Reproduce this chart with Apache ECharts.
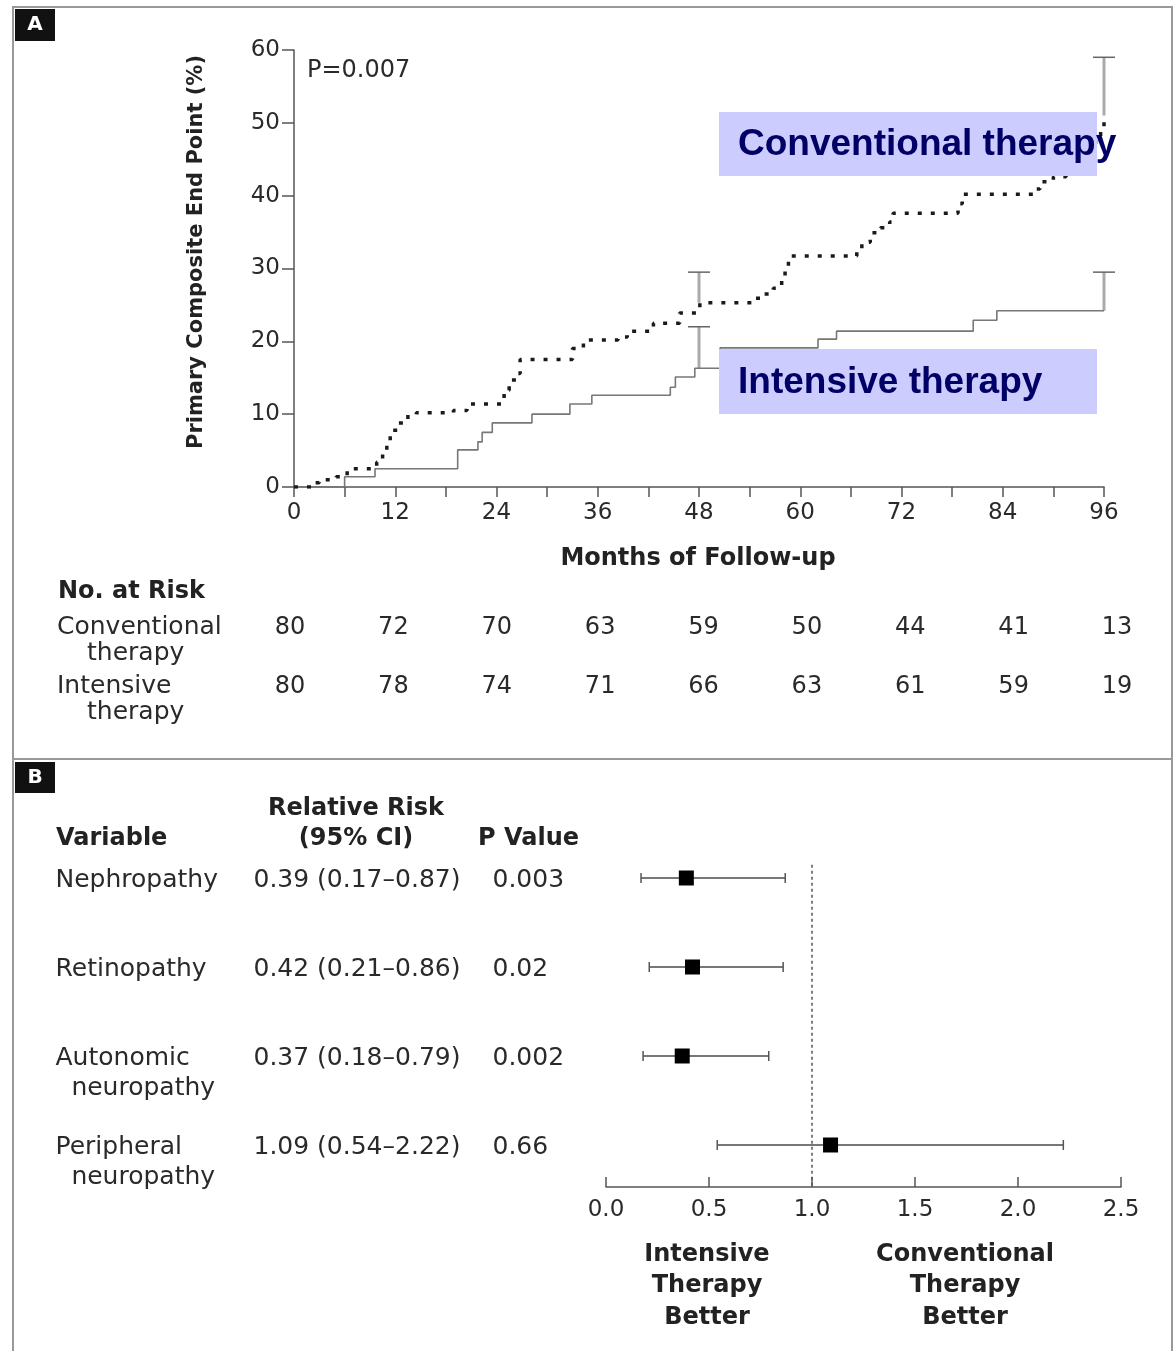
<!DOCTYPE html>
<html><head><meta charset="utf-8">
<script src="https://cdn.jsdelivr.net/npm/echarts@6/dist/echarts.min.js"></script>
<style>html,body{margin:0;padding:0;background:#fff}#c{width:1175px;height:1351px}</style>
</head><body><div id="c"></div>
<script>
// ---------- data ----------
const monthTicks = [0, 12, 24, 36, 48, 60, 72, 84, 96];
const conventionalCurve = [[0,0],[2.2,0.6],[3,1.0],[5,1.4],[6.3,2.5],[9.8,3.4],[10.5,4.8],[11,6.2],[11.4,7.8],[12.3,8.8],[13.5,9.9],[14.5,10.2],[18.9,10.5],[20.5,11.4],[24.9,13.3],[25.5,14.7],[26.5,15.6],[26.8,17.5],[33,19.0],[34.3,20.2],[38.4,20.6],[39.5,21.4],[42.6,22.5],[45.7,23.9],[47.8,24.0],[48.1,25.3],[54.3,25.9],[55.6,26.5],[56.8,27.3],[57.8,28.4],[58.2,29.9],[58.6,31.7],[66.7,32.5],[67.3,33.6],[68.3,34.9],[69.5,35.6],[70.6,36.4],[71,37.6],[78.7,38.9],[79.2,40.2],[87.6,40.9],[88.4,41.9],[90,42.6],[91.5,44.0],[93.5,46.0],[95,48.0],[95.6,49.4],[96,51.0]];
const intensiveCurve = [[0,0],[6,1.4],[9.6,2.5],[19.4,5.1],[21.8,6.2],[22.3,7.5],[23.5,8.8],[28.2,10.0],[32.7,11.4],[35.3,12.6],[44.6,13.7],[45.2,15.1],[47.5,16.3],[50.5,19.1],[62.1,20.3],[64.3,21.4],[80.5,22.9],[83.3,24.2],[96,24.2]];
const conventionalCI = [[48, 25.3, 29.5], [96, 51.0, 59.0]];
const intensiveCI = [[48, 16.3, 22.0], [96, 24.2, 29.5]];
const atRiskConventional = [80, 72, 70, 63, 59, 50, 44, 41, 13];
const atRiskIntensive = [80, 78, 74, 71, 66, 63, 61, 59, 19];
const pValueText = 'P=0.007';

const variables = ['Nephropathy', 'Retinopathy', 'Autonomic neuropathy', 'Peripheral neuropathy'];
const relativeRisk = [0.39, 0.42, 0.37, 1.09];
const ciLow = [0.17, 0.21, 0.18, 0.54];
const ciHigh = [0.87, 0.86, 0.79, 2.22];
const pValues = ['0.003', '0.02', '0.002', '0.66'];

// ---------- chart ----------
const FONT = 'DejaVu Sans';
const TXT = '#2a2a2a';
const chart = echarts.init(document.getElementById('c'), null, {renderer: 'canvas'});

const axisGray = {color: '#555', width: 1.5};

function kmCI(params, api) {
  const b = api.coord([api.value(0), api.value(1)]);
  const t = api.coord([api.value(0), api.value(2)]);
  return {type: 'group', children: [
    {type: 'line', shape: {x1: b[0], y1: b[1], x2: t[0], y2: t[1]}, style: {stroke: '#aaa', lineWidth: 3}},
    {type: 'line', shape: {x1: t[0] - 11, y1: t[1], x2: t[0] + 11, y2: t[1]}, style: {stroke: '#666', lineWidth: 1.5}}
  ]};
}

function forestItem(params, api) {
  const r = api.value(3);
  const c = api.coord([api.value(0), r]);
  const l = api.coord([api.value(1), r]);
  const h = api.coord([api.value(2), r]);
  return {type: 'group', children: [
    {type: 'line', shape: {x1: l[0], y1: l[1], x2: h[0], y2: h[1]}, style: {stroke: '#777', lineWidth: 2}},
    {type: 'line', shape: {x1: l[0], y1: l[1] - 5, x2: l[0], y2: l[1] + 5}, style: {stroke: '#555', lineWidth: 1.5}},
    {type: 'line', shape: {x1: h[0], y1: h[1] - 5, x2: h[0], y2: h[1] + 5}, style: {stroke: '#555', lineWidth: 1.5}},
    {type: 'rect', shape: {x: c[0] - 7.5, y: c[1] - 7.5, width: 15, height: 15}, style: {fill: '#000'}}
  ]};
}

const fmt2 = v => v.toFixed(2);
const rrStrings = relativeRisk.map((v, i) => `${fmt2(v)} (${fmt2(ciLow[i])}–${fmt2(ciHigh[i])})`);
const varStrings = variables.map(v => v.includes(' ') ? v.replace(' ', '\n  ') : v);

const tableLabel = {
  show: true, position: [0, -12], align: 'left', verticalAlign: 'top',
  fontFamily: FONT, fontSize: 25, color: TXT, lineHeight: 30,
  formatter: p => p.value[2]
};
const tableSeries = (colX, texts) => ({
  type: 'scatter', xAxisIndex: 3, yAxisIndex: 3, symbolSize: 1,
  itemStyle: {color: 'rgba(0,0,0,0)', opacity: 1}, silent: true,
  data: texts.map((t, i) => [colX, i, t]),
  label: tableLabel
});
const riskSeries = (row, vals) => ({
  type: 'scatter', xAxisIndex: 1, yAxisIndex: 1, symbolSize: 1,
  itemStyle: {color: 'rgba(0,0,0,0)', opacity: 1}, silent: true,
  data: monthTicks.map((m, i) => [m, row, vals[i]]),
  label: {show: true, position: 'inside', fontFamily: FONT, fontSize: 24, color: TXT, formatter: p => p.value[2]}
});

const txt = (x, y, text, o = {}) => ({
  type: 'text', x, y, z: 50,
  style: Object.assign({text, fontFamily: FONT, fontSize: 25, fill: TXT, align: 'left', verticalAlign: 'middle'}, o)
});

const option = {
  backgroundColor: '#fff',
  animation: false,
  grid: [
    {left: 294, top: 50, width: 810, height: 437},
    {left: 290, top: 628, width: 827, height: 59},
    {left: 606, top: 833.5, width: 515, height: 353.5},
    {left: 0, top: 833.5, width: 1175, height: 353.5}
  ],
  xAxis: [
    {type: 'value', gridIndex: 0, min: 0, max: 96, interval: 12,
      axisLine: {show: true, onZero: false, lineStyle: axisGray},
      axisTick: {show: true, length: 10, lineStyle: axisGray},
      minorTick: {show: true, splitNumber: 2, length: 10, lineStyle: axisGray},
      minorSplitLine: {show: false}, splitLine: {show: false},
      axisLabel: {fontFamily: FONT, fontSize: 23, color: TXT, margin: 15}},
    {type: 'value', gridIndex: 1, min: 0, max: 96, show: false},
    {type: 'value', gridIndex: 2, min: 0, max: 2.5, interval: 0.5, position: 'bottom',
      axisLine: {show: true, onZero: false, lineStyle: axisGray},
      axisTick: {show: true, inside: true, length: 10, lineStyle: axisGray},
      splitLine: {show: false},
      axisLabel: {fontFamily: FONT, fontSize: 23, color: TXT, margin: 12, formatter: v => v.toFixed(1)}},
    {type: 'value', gridIndex: 3, min: 0, max: 1175, show: false}
  ],
  yAxis: [
    {type: 'value', gridIndex: 0, min: 0, max: 60, interval: 10,
      axisLine: {show: true, onZero: false, lineStyle: axisGray},
      axisTick: {show: true, length: 12, lineStyle: axisGray},
      splitLine: {show: false},
      axisLabel: {fontFamily: FONT, fontSize: 23, color: TXT, margin: 14}},
    {type: 'value', gridIndex: 1, min: 0, max: 1, inverse: true, show: false},
    {type: 'value', gridIndex: 2, min: -0.5, max: 3.472, inverse: true, show: false},
    {type: 'value', gridIndex: 3, min: -0.5, max: 3.472, inverse: true, show: false}
  ],
  series: [
    {name: 'Intensive therapy', type: 'line', step: 'end', xAxisIndex: 0, yAxisIndex: 0,
      showSymbol: false, symbol: 'none', data: intensiveCurve,
      lineStyle: {color: '#777', width: 1.6}, z: 3},
    {name: 'Conventional therapy', type: 'line', step: 'end', xAxisIndex: 0, yAxisIndex: 0,
      showSymbol: false, symbol: 'none', data: conventionalCurve,
      lineStyle: {color: '#1a1a1a', width: 3.5, type: [4, 9]}, z: 4},
    {type: 'custom', xAxisIndex: 0, yAxisIndex: 0, renderItem: kmCI,
      encode: {x: 0, y: [1, 2]}, data: conventionalCI.concat(intensiveCI), z: 2},
    {type: 'line', xAxisIndex: 2, yAxisIndex: 2, symbol: 'none', silent: true,
      data: [[1, -0.15], [1, 3.472]], lineStyle: {color: '#555', width: 1.5, type: [3, 3]}},
    {type: 'custom', xAxisIndex: 2, yAxisIndex: 2, renderItem: forestItem,
      encode: {x: [0, 1, 2], y: 3}, data: relativeRisk.map((v, i) => [v, ciLow[i], ciHigh[i], i]), z: 5},
    riskSeries(0, atRiskConventional),
    riskSeries(1, atRiskIntensive),
    tableSeries(56, varStrings),
    tableSeries(254, rrStrings),
    tableSeries(493, pValues)
  ],
  graphic: [
    {type: 'rect', shape: {x: 13, y: 7, width: 1159, height: 1370}, style: {fill: 'none', stroke: '#999', lineWidth: 2}, z: 40},
    {type: 'line', shape: {x1: 13, y1: 759, x2: 1172, y2: 759}, style: {stroke: '#999', lineWidth: 2}, z: 40},
    {type: 'rect', shape: {x: 15, y: 9, width: 40, height: 32}, style: {fill: '#111'}, z: 41},
    txt(35, 25, 'A', {fill: '#fff', fontWeight: 'bold', fontSize: 20, align: 'center'}),
    {type: 'rect', shape: {x: 15, y: 762, width: 40, height: 31}, style: {fill: '#111'}, z: 41},
    txt(35, 778, 'B', {fill: '#fff', fontWeight: 'bold', fontSize: 20, align: 'center'}),
    {type: 'text', x: 197, y: 252, rotation: Math.PI / 2, z: 50,
      style: {text: 'Primary Composite End Point (%)', fontFamily: FONT, fontWeight: 'bold', fontSize: 21, fill: '#222', align: 'center', verticalAlign: 'middle'}},
    txt(698, 559, 'Months of Follow-up', {fontWeight: 'bold', fontSize: 24, fill: '#222', align: 'center'}),
    txt(307, 71, pValueText, {fontSize: 24}),
    {type: 'rect', shape: {x: 719, y: 112, width: 378, height: 64}, style: {fill: '#ccccff'}, z: 60},
    {type: 'text', x: 738, y: 145, z: 61, style: {text: 'Conventional therapy', fontFamily: 'Liberation Sans', fontWeight: 'bold', fontSize: 37, fill: '#000066', align: 'left', verticalAlign: 'middle'}},
    {type: 'rect', shape: {x: 719, y: 349, width: 378, height: 65}, style: {fill: '#ccccff'}, z: 60},
    {type: 'text', x: 738, y: 383, z: 61, style: {text: 'Intensive therapy', fontFamily: 'Liberation Sans', fontWeight: 'bold', fontSize: 37, fill: '#000066', align: 'left', verticalAlign: 'middle'}},
    txt(58, 592, 'No. at Risk', {fontWeight: 'bold', fill: '#222', fontSize: 24}),
    txt(57, 627, 'Conventional'),
    txt(87, 653, 'therapy'),
    txt(57, 686, 'Intensive'),
    txt(87, 712, 'therapy'),
    txt(56, 839, 'Variable', {fontWeight: 'bold', fill: '#222', fontSize: 24}),
    txt(356, 809, 'Relative Risk', {fontWeight: 'bold', fill: '#222', align: 'center', fontSize: 24}),
    txt(356, 839, '(95% CI)', {fontWeight: 'bold', fill: '#222', align: 'center', fontSize: 24}),
    txt(478, 839, 'P Value', {fontWeight: 'bold', fill: '#222', fontSize: 24}),
    txt(707, 1286, 'Intensive\nTherapy\nBetter', {fontWeight: 'bold', fill: '#222', align: 'center', lineHeight: 31.5, fontSize: 24}),
    txt(965, 1286, 'Conventional\nTherapy\nBetter', {fontWeight: 'bold', fill: '#222', align: 'center', lineHeight: 31.5, fontSize: 24})
  ]
};
chart.setOption(option);
</script>
</body></html>
